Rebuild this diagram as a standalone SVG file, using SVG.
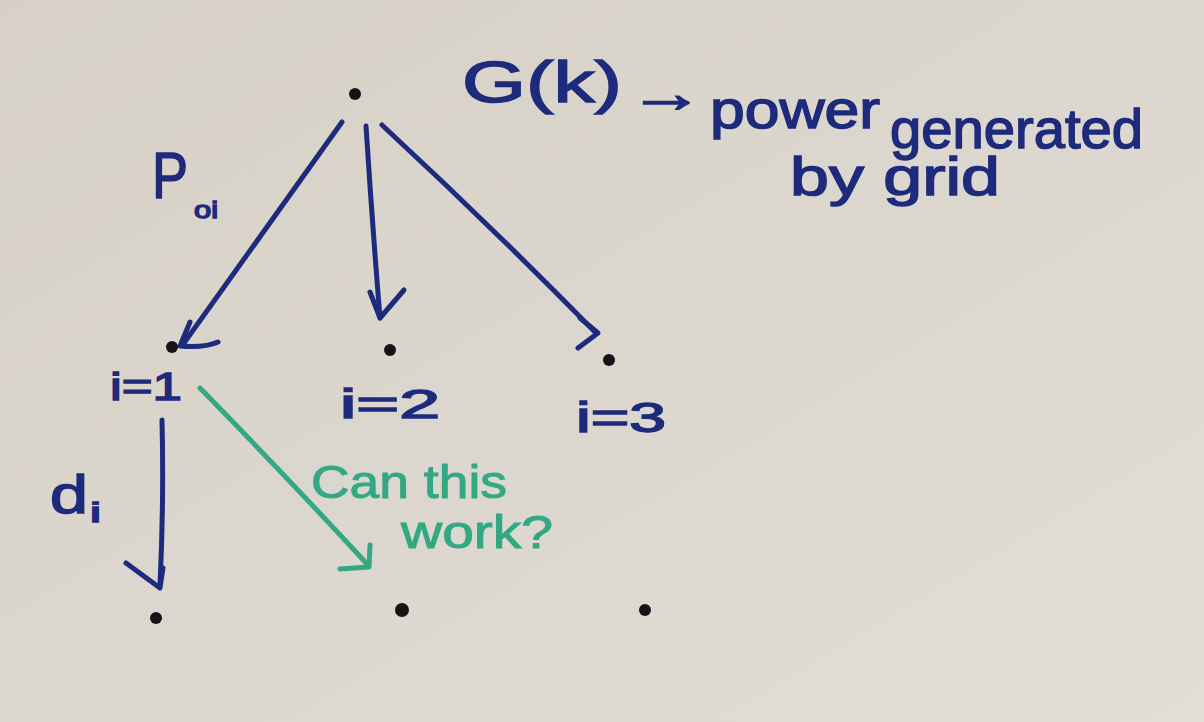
<svg xmlns="http://www.w3.org/2000/svg" width="1204" height="722" viewBox="0 0 1204 722">
<defs>
<linearGradient id="bg" x1="0" y1="0" x2="1" y2="1">
<stop offset="0" stop-color="#d6d0c6"/>
<stop offset="0.5" stop-color="#dcd7ce"/>
<stop offset="1" stop-color="#e2ddd5"/>
</linearGradient>
<style>
.b{fill:none;stroke:#1e2a7c;stroke-width:5;stroke-linecap:round;stroke-linejoin:round}
.g{fill:none;stroke:#33a884;stroke-width:5;stroke-linecap:round;stroke-linejoin:round}
.dot{fill:#141414}
.tb{font-family:"Liberation Sans",sans-serif;fill:#1e2a7c;stroke:#1e2a7c;stroke-width:1.5}
.tg{font-family:"Liberation Sans",sans-serif;fill:#33a884;stroke:#33a884;stroke-width:1}
</style>
</defs>
<rect width="1204" height="722" fill="url(#bg)"/>
<g id="connectors">
<path class="b" d="M342 122 Q265 230 184 343"/>
<path class="b" d="M190 322 L180 346 Q205 348 218 342"/>
<path class="b" d="M366 126 Q372 220 380 318"/>
<path class="b" d="M370 292 L380 318 L404 290"/>
<path class="b" d="M382 125 Q490 225 596 333"/>
<path class="b" d="M580 318 L598 333 L578 348"/>
<path class="b" d="M162 420 Q164 500 160 585"/>
<path class="b" d="M126 563 L160 588 L163 568"/>
<path class="g" d="M200 388 Q285 475 368 565"/>
<path class="g" d="M370 545 L369 567 L340 569"/>
</g>
<g id="root"><circle class="dot" cx="355" cy="94" r="6"/>
<text class="tb" x="462" y="102" font-size="58" textLength="160" lengthAdjust="spacingAndGlyphs">G(k)</text>
<text class="tb" x="628" y="112" font-size="56" stroke-width="3" textLength="76" lengthAdjust="spacingAndGlyphs">→</text>
<text class="tb" x="710" y="128" font-size="54" textLength="170" lengthAdjust="spacingAndGlyphs">power</text>
<text class="tb" x="890" y="148" font-size="56" textLength="253" lengthAdjust="spacingAndGlyphs">generated</text>
<text class="tb" x="790" y="195" font-size="54" textLength="210" lengthAdjust="spacingAndGlyphs">by grid</text>
</g>
<g id="label-p"><text class="tb" x="152" y="198" font-size="64" textLength="36" lengthAdjust="spacingAndGlyphs">P</text><text class="tb" x="194" y="218" font-size="24" textLength="24" lengthAdjust="spacingAndGlyphs">oi</text></g>
<g id="n1"><circle class="dot" cx="172" cy="347" r="6"/><text class="tb" x="110" y="400" font-size="38" textLength="72" lengthAdjust="spacingAndGlyphs">i=1</text></g>
<g id="n2"><circle class="dot" cx="390" cy="350" r="6"/><text class="tb" x="340" y="418" font-size="40" textLength="100" lengthAdjust="spacingAndGlyphs">i=2</text></g>
<g id="n3"><circle class="dot" cx="609" cy="360" r="6"/><text class="tb" x="576" y="432" font-size="42" textLength="90" lengthAdjust="spacingAndGlyphs">i=3</text></g>
<g id="label-d"><text class="tb" x="50" y="513" font-size="54" textLength="38" lengthAdjust="spacingAndGlyphs">d</text><text class="tb" x="90" y="522" font-size="28" textLength="11" lengthAdjust="spacingAndGlyphs">i</text></g>
<g id="label-green"><text class="tg" x="311" y="498" font-size="46" textLength="196" lengthAdjust="spacingAndGlyphs">Can this</text><text class="tg" x="401" y="548" font-size="46" textLength="152" lengthAdjust="spacingAndGlyphs">work?</text></g>
<g id="b1"><circle class="dot" cx="156" cy="618" r="6"/></g>
<g id="b2"><circle class="dot" cx="402" cy="610" r="7"/></g>
<g id="b3"><circle class="dot" cx="645" cy="610" r="6"/></g>
</svg>
